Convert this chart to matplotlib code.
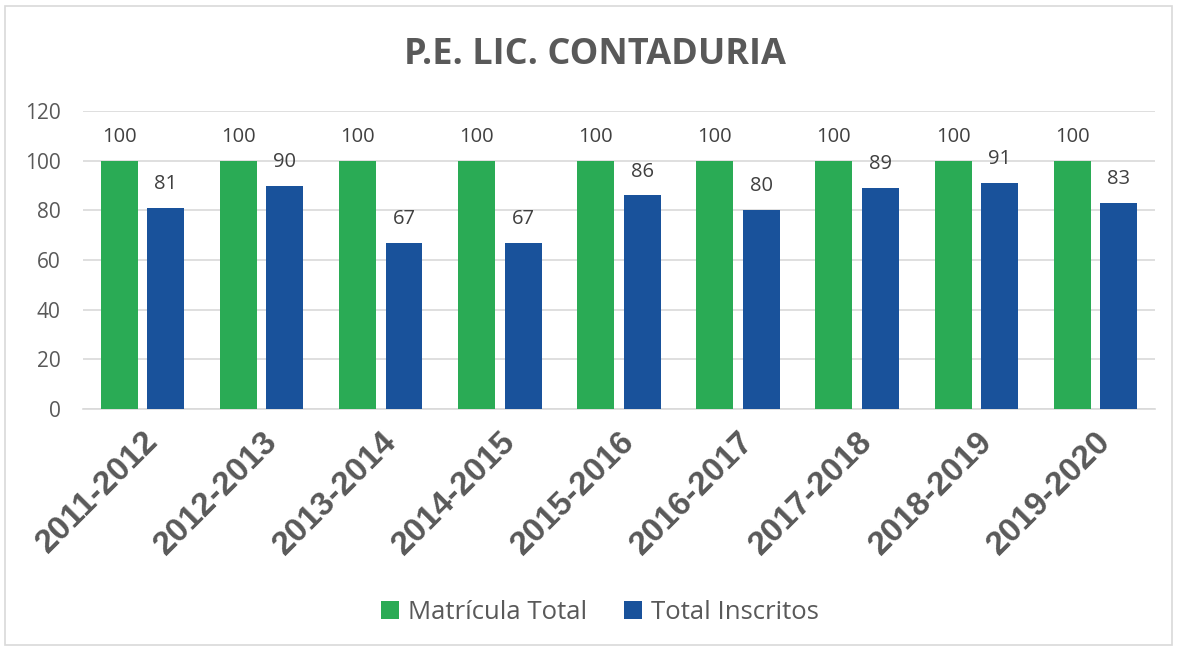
import numpy as np
from matplotlib import pyplot as plt
from matplotlib.patches import Rectangle

periods = ["2011-2012", "2012-2013", "2013-2014", "2014-2015", "2015-2016",
           "2016-2017", "2017-2018", "2018-2019", "2019-2020"]
matricula_total = [100, 100, 100, 100, 100, 100, 100, 100, 100]
total_inscritos = [81, 90, 67, 67, 86, 80, 89, 91, 83]

GREEN = "#2aab55"
BLUE = "#19529b"
GRAY_TXT = "#595959"

fig = plt.figure(figsize=(11.79, 6.51), dpi=100)
ax = fig.add_axes([0.0704, 0.3717, 0.9092, 0.4578])

# chart border
fig.patches.append(Rectangle((5/1179, 6/651), 1167/1179, 639/651, transform=fig.transFigure,
                             fill=False, edgecolor="#d9d9d9", lw=1.2))

x = np.arange(len(periods))
w = 0.31
off = 0.195
b1 = ax.bar(x - off, matricula_total, w, color=GREEN, label="Matrícula Total", zorder=3)
b2 = ax.bar(x + off, total_inscritos, w, color=BLUE, label="Total Inscritos", zorder=3)

for bars in (b1, b2):
    for r in bars:
        ax.annotate("{:d}".format(int(r.get_height())), (r.get_x() + r.get_width()/2, r.get_height()),
                    xytext=(0, 10), textcoords="offset points", ha="center", va="bottom",
                    fontsize=14.5, color="#404040", family="Open Sans")

ax.set_xlim(-0.5, len(periods) - 0.5)
ax.set_ylim(0, 120)
ax.set_yticks(range(0, 121, 20))
ax.yaxis.grid(True, color="#d9d9d9", lw=1.2, zorder=0)
ax.set_axisbelow(True)
for s in ["top", "right", "left"]:
    ax.spines[s].set_visible(False)
ax.spines["bottom"].set_color("#d9d9d9")
ax.spines["bottom"].set_linewidth(1.2)
ax.tick_params(axis="both", length=0)
ax.tick_params(axis="y", pad=16, labelsize=15, labelcolor=GRAY_TXT)
for t in ax.get_yticklabels():
    t.set_family("Open Sans")

ax.set_xticks(x)
ax.set_xticklabels(periods, rotation=45, ha="right", rotation_mode="anchor",
                   fontsize=24, fontweight="bold", color=GRAY_TXT, family="Liberation Sans")
ax.tick_params(axis="x", pad=12)

fig.text(0.505, 0.915, "P.E. LIC. CONTADURIA", ha="center", va="center",
         fontsize=26, fontweight="bold", color=GRAY_TXT, family="Open Sans")

fig.legend(handles=[b1, b2], loc="center", bbox_to_anchor=(0.509, 0.059), ncol=2,
           frameon=False, handlelength=0.7, handleheight=0.7,
           columnspacing=1.45, handletextpad=0.35,
           prop={"family": "Open Sans", "size": 18.5}, labelcolor=GRAY_TXT)

fig.savefig("out.png", dpi=100)
